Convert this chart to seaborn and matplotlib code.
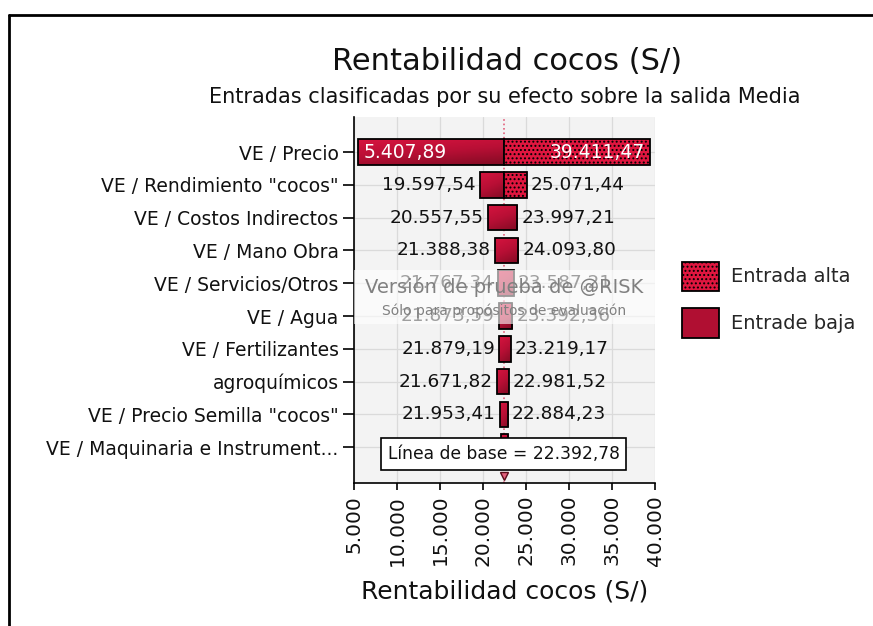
import numpy as np
import matplotlib.pyplot as plt
import seaborn as sns
from matplotlib.patches import Patch
from matplotlib.lines import Line2D
from matplotlib.colors import LinearSegmentedColormap

# datos
entradas = ['VE / Precio', 'VE / Rendimiento "cocos"', 'VE / Costos Indirectos',
            'VE / Mano Obra', 'VE / Servicios/Otros', 'VE / Agua',
            'VE / Fertilizantes', 'agroquímicos', 'VE / Precio Semilla "cocos"',
            'VE / Maquinaria e Instrument...']
valor_bajo = [5407.89, 19597.54, 20557.55, 21388.38, 21767.34, 21873.59,
              21879.19, 21671.82, 21953.41, 22050.00]
valor_alto = [39411.47, 25071.44, 23997.21, 24093.80, 23587.21, 23392.36,
              23219.17, 22981.52, 22884.23, 22950.00]
# filas en que la parte derecha viene de la entrada alta (punteada)
con_alta = [True, True, False, False, False, False, False, False, False, False]
linea_base = 22392.78
x_ticks = [5000, 10000, 15000, 20000, 25000, 30000, 35000, 40000]


def fmt_es(v, dec=2):
    s = f'{v:,.{dec}f}'
    return s.replace(',', 'X').replace('.', ',').replace('X', '.')


sns.set_theme(style='whitegrid', rc={
    'axes.facecolor': '#f3f3f3',
    'grid.color': '#dadada',
    'grid.linewidth': 0.9,
    'axes.edgecolor': 'black',
    'hatch.linewidth': 0.9,
    'hatch.color': 'black',
})
plt.rcParams['font.family'] = ['DejaVu Sans']

fig = plt.figure(figsize=(8.73, 6.26), dpi=100)
ax = fig.add_axes([354 / 873, 1 - 483 / 626, 301 / 873, 366 / 626])

y = np.arange(len(entradas))
alto_barra = 0.78
cmap = LinearSegmentedColormap.from_list('rojo', ['#d6143f', '#b80f35', '#840b24'])
gx, gy = np.meshgrid(np.linspace(0, 1, 40), np.linspace(0, 1, 20))
grad = 0.7 * gy + 0.3 * gx

for i in range(len(entradas)):
    lo, hi = valor_bajo[i], valor_alto[i]
    if con_alta[i]:
        # parte baja (degradado) y parte alta (punteada)
        p = ax.barh(y[i], linea_base - lo, left=lo, height=alto_barra,
                    facecolor='none', edgecolor='black', linewidth=1.3, zorder=4)[0]
        ax.barh(y[i], hi - linea_base, left=linea_base, height=alto_barra,
                facecolor='#e0163f', edgecolor='black', linewidth=1.3,
                hatch='....', zorder=4)
        x0, x1 = lo, linea_base
    else:
        p = ax.barh(y[i], hi - lo, left=lo, height=alto_barra,
                    facecolor='none', edgecolor='black', linewidth=1.3, zorder=4)[0]
        x0, x1 = lo, hi
    im = ax.imshow(grad, cmap=cmap, extent=[x0, x1, y[i] + alto_barra / 2, y[i] - alto_barra / 2],
                   aspect='auto', zorder=3, interpolation='bilinear')
    im.set_clip_path(p)

    if i == 0:
        ax.annotate(fmt_es(lo), (lo, y[i]), xytext=(4, 0), textcoords='offset points',
                    ha='left', va='center', color='white', fontsize=13.5, zorder=6)
        ax.annotate(fmt_es(hi), (hi, y[i]), xytext=(-4, 0), textcoords='offset points',
                    ha='right', va='center', color='white', fontsize=13.5, zorder=6)
    else:
        ax.annotate(fmt_es(lo), (lo, y[i]), xytext=(-3, 0), textcoords='offset points',
                    ha='right', va='center', color='#111111', fontsize=13.3, zorder=5)
        ax.annotate(fmt_es(hi), (hi, y[i]), xytext=(3, 0), textcoords='offset points',
                    ha='left', va='center', color='#111111', fontsize=13.3, zorder=5)

# línea de base
ax.axvline(linea_base, color='#e2607c', linestyle=':', linewidth=1.2, zorder=2)
ax.plot([linea_base], [9.88], marker='v', markersize=6, color='#e2607c',
        markeredgecolor='#5a0a18', zorder=7, clip_on=False)
ax.text(linea_base, 9.2, f'Línea de base = {fmt_es(linea_base)}', ha='center', va='center',
        fontsize=12.3, color='#111111', zorder=10,
        bbox=dict(boxstyle='square,pad=0.4', facecolor='white', edgecolor='black', linewidth=1.2))

# marca de agua
ax.axhspan(3.6, 5.25, facecolor='white', alpha=0.6, zorder=8, linewidth=0)
ax.text(0.5, (10.09 - 4.1) / 11.16, 'Versión de prueba de @RISK', transform=ax.transAxes,
        ha='center', va='center', fontsize=14, color='#808080', zorder=9)
ax.text(0.5, (10.09 - 4.85) / 11.16, 'Sólo para propósitos de evaluación', transform=ax.transAxes,
        ha='center', va='center', fontsize=10, color='#808080', zorder=9)

ax.set_yticks(y)
ax.set_yticklabels(entradas, fontsize=13.5, color='#111111')
ax.set_ylim(10.09, -1.07)
ax.set_xlim(5000, 40000)
ax.set_xticks(x_ticks)
ax.set_xticklabels([fmt_es(t, 0) for t in x_ticks], rotation=90, fontsize=14.5, color='#111111')
ax.set_xlabel('Rentabilidad cocos (S/)', fontsize=18, color='#111111', labelpad=10)
ax.tick_params(axis='x', length=5, width=1.2, color='black', bottom=True, direction='out')
ax.tick_params(axis='y', length=8, width=1.2, color='black', left=True, direction='out', pad=3)
ax.grid(True, zorder=0)
ax.set_axisbelow(True)
for s in ['top', 'right']:
    ax.spines[s].set_visible(False)
for s in ['left', 'bottom']:
    ax.spines[s].set_linewidth(1.2)

# títulos
fig.text(507 / 873, 1 - 61 / 626, 'Rentabilidad cocos (S/)', ha='center', va='center',
         fontsize=22, color='#111111')
fig.text(505 / 873, 1 - 97 / 626, 'Entradas clasificadas por su efecto sobre la salida Media',
         ha='center', va='center', fontsize=15, color='#111111')

# leyenda
handles = [Patch(facecolor='#e0163f', edgecolor='black', hatch='....', linewidth=1.3),
           Patch(facecolor='#b00f32', edgecolor='black', linewidth=1.3)]
fig.legend(handles, ['Entrada alta', 'Entrade baja'], loc='upper left',
           bbox_to_anchor=(664 / 873, 1 - 244 / 626), frameon=False, fontsize=14,
           handlelength=1.95, handleheight=1.95, labelspacing=0.9, handletextpad=0.6)

# marco exterior
fig.add_artist(Line2D([9 / 873, 9 / 873], [0, 1 - 15 / 626], transform=fig.transFigure,
                      color='black', linewidth=2))
fig.add_artist(Line2D([9 / 873, 1], [1 - 15 / 626, 1 - 15 / 626], transform=fig.transFigure,
                      color='black', linewidth=2))

fig.savefig('out.png', dpi=100)
